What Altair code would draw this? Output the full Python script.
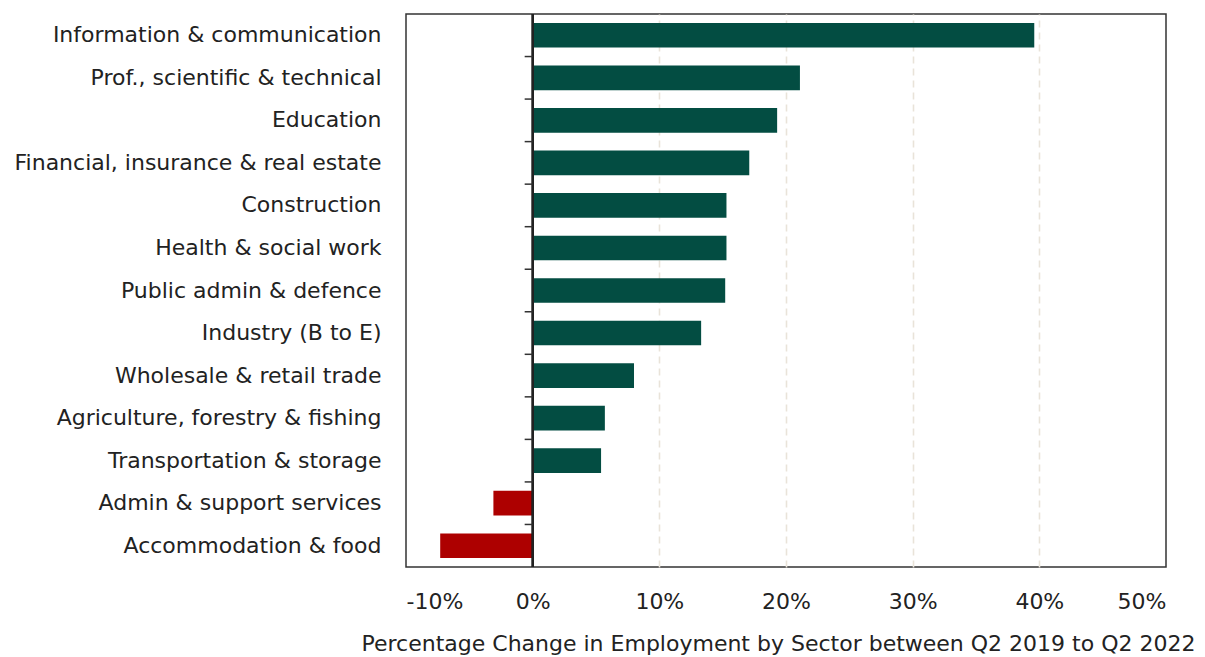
import altair as alt
import pandas as pd

sectors = [
    "Information & communication",
    "Prof., scientific & technical",
    "Education",
    "Financial, insurance & real estate",
    "Construction",
    "Health & social work",
    "Public admin & defence",
    "Industry (B to E)",
    "Wholesale & retail trade",
    "Agriculture, forestry & fishing",
    "Transportation & storage",
    "Admin & support services",
    "Accommodation & food",
]
changes = [39.6, 21.1, 19.3, 17.1, 15.3, 15.3, 15.2, 13.3, 8.0, 5.7, 5.4, -3.1, -7.3]
x_ticks = [-10, 0, 10, 20, 30, 40, 50]

df = pd.DataFrame({"sector": sectors, "change": changes})
df["sign"] = ["pos" if v >= 0 else "neg" for v in changes]
inner = pd.DataFrame({"sector": sectors[1:]})

FONT = "DejaVu Sans"
W, H = 760, 553
step = H / (len(sectors) - 0.42 + 2 * 0.21)

yscale = alt.Scale(domain=sectors, paddingInner=0.42, paddingOuter=0.21)
xscale = alt.Scale(domain=[-10, 50], nice=False, zero=False)

bars = alt.Chart(df).mark_bar().encode(
    y=alt.Y("sector:N", scale=yscale, sort=sectors,
            axis=alt.Axis(title=None, ticks=False, domain=False, labelPadding=25,
                          labelLimit=500, labelFontSize=22, labelFont=FONT,
                          labelColor="#222222")),
    x=alt.X("change:Q", scale=xscale,
            axis=alt.Axis(values=x_ticks, labelExpr="datum.value + '%'",
                          title="Percentage Change in Employment by Sector between Q2 2019 to Q2 2022",
                          ticks=False, domain=False, labelPadding=24,
                          labelFontSize=22, labelFont=FONT, labelColor="#222222",
                          titleFontSize=22, titleFont=FONT, titleColor="#222222",
                          titleFontWeight="normal", titlePadding=21,
                          titleX=W / 2 - 8,
                          grid=True, gridDash=[7, 5], gridColor="#e9e3d9",
                          gridWidth=1.6,
                          gridOpacity=alt.condition(
                              "datum.value > -10 && datum.value < 50 && datum.value != 0",
                              alt.value(1), alt.value(0)))),
    color=alt.Color("sign:N", scale=alt.Scale(domain=["pos", "neg"],
                                               range=["#034d42", "#ad0000"]),
                    legend=None),
)

zero = alt.Chart(df).mark_rule(color="#222222", strokeWidth=1.5).encode(
    x=alt.datum(0)
)

ticks = alt.Chart(inner).mark_rule(color="#333333", strokeWidth=1.5,
                                   yOffset=-step / 2, x2Offset=-8).encode(
    y=alt.Y("sector:N", scale=yscale, sort=sectors),
    x=alt.datum(0),
    x2=alt.datum(0),
)

chart = alt.layer(bars, zero, ticks).properties(
    width=W, height=H,
    background="white",
    autosize=alt.AutoSizeParams(type="none"),
    padding={"left": 406, "top": 14, "right": 39, "bottom": 90},
).configure_view(stroke="#333333", strokeWidth=1.5)

chart.save("out.html", embed_options={"renderer": "svg", "actions": False})
